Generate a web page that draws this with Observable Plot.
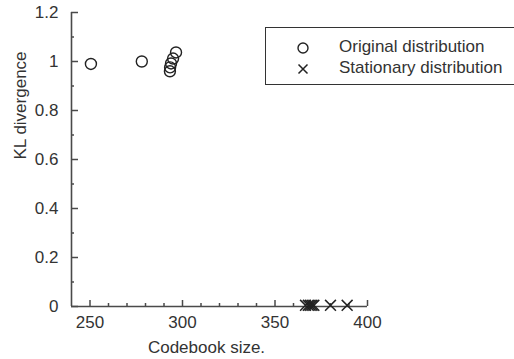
<!DOCTYPE html>
<html>
<head>
<meta charset="utf-8">
<script src="https://cdn.jsdelivr.net/npm/d3@7"></script>
<script src="https://cdn.jsdelivr.net/npm/@observablehq/plot@0.6"></script>
<style>
  body { margin: 0; background: #fff; }
  #chart { position: relative; width: 514px; height: 359px; overflow: hidden;
           font-family: "Liberation Sans", Arial, sans-serif; color: #222; }
  #chart svg { display: block; }
  .legend { position: absolute; left: 265px; top: 27px; width: 270px; height: 58px;
            border: 1.5px solid #333; box-sizing: border-box; background: #fff; }
  .legend .row { position: absolute; left: 0; height: 20px; font-size: 17px; line-height: 20px; white-space: nowrap; color: #333; }
  .legend .row svg { position: absolute; left: 29px; top: 3px; }
  .legend .row span { position: absolute; left: 73px; top: 0; }
</style>
</head>
<body>
<div id="chart"></div>
<script>
// Series names
const seriesNames = ["Original distribution", "Stationary distribution"];

// Original distribution: codebook size vs. KL divergence
const originalSize = [250.5, 278, 293.2, 293.3, 293.8, 294.9, 296.5];
const originalKL   = [0.99, 1.0, 0.96, 0.976, 0.992, 1.012, 1.037];

// Stationary distribution: codebook size vs. KL divergence
const stationarySize = [366.5, 368, 369, 370, 371, 380, 389];
const stationaryKL   = [0.005, 0.005, 0.005, 0.005, 0.005, 0.005, 0.005];

// Axis ticks
const xMajorTicks = [250, 300, 350, 400];
const xMinorTicks = [260, 270, 280, 290, 310, 320, 330, 340, 360, 370, 380, 390];
const yMajorTicks = [0, 0.2, 0.4, 0.6, 0.8, 1, 1.2];
const yMinorTicks = [0.1, 0.3, 0.5, 0.7, 0.9, 1.1];
const yTickLabels = ["0", "0.2", "0.4", "0.6", "0.8", "1", "1.2"];

const xLabel = "Codebook size.";
const yLabel = "KL divergence";

const original = originalSize.map((x, i) => ({x, y: originalKL[i]}));
const stationary = stationarySize.map((x, i) => ({x, y: stationaryKL[i]}));

const axisColor = "#4a4a4a";
const inkColor = "#222";
const tickStyle = {stroke: axisColor, strokeWidth: 1.5};

const chart = Plot.plot({
  width: 514,
  height: 359,
  marginLeft: 71,
  marginRight: 147,
  marginTop: 12,
  marginBottom: 53,
  x: {domain: [240, 400]},
  y: {domain: [0, 1.2]},
  style: {fontFamily: "'Liberation Sans', Arial, sans-serif", fontSize: "17px", color: "#333", background: "transparent"},
  marks: [
    // axis lines
    Plot.ruleX([240], {y1: 0, y2: 1.2, stroke: axisColor, strokeWidth: 1.6}),
    Plot.ruleY([0], {x1: 240, x2: 400, stroke: axisColor, strokeWidth: 1.6}),
    // inward-facing ticks, drawn as short rules from the axis lines
    Plot.ruleX(xMajorTicks, {x: (d) => d, y1: 0, y2: 0, insetTop: -6, ...tickStyle}),
    Plot.ruleX(xMinorTicks, {x: (d) => d, y1: 0, y2: 0, insetTop: -3, ...tickStyle}),
    Plot.ruleY(yMajorTicks, {y: (d) => d, x1: 240, x2: 240, insetRight: -7, ...tickStyle}),
    Plot.ruleY(yMinorTicks, {y: (d) => d, x1: 240, x2: 240, insetRight: -3, ...tickStyle}),
    // tick labels
    Plot.axisX({ticks: xMajorTicks, tickSize: 0, tickPadding: 9, label: null, fill: "#333"}),
    Plot.axisY({ticks: yMajorTicks, tickSize: 0, tickPadding: 13, label: null, fill: "#333",
                tickFormat: (d) => yTickLabels[yMajorTicks.indexOf(d)]}),
    // axis titles
    Plot.text([xLabel], {frameAnchor: "bottom", lineAnchor: "top", dy: 34, dx: -13, fill: "#333", fontSize: 17}),
    Plot.text([yLabel], {frameAnchor: "left", rotate: -90, lineAnchor: "top", dx: -58, fill: "#333", fontSize: 17}),
    // data
    Plot.dot(original, {x: "x", y: "y", symbol: "circle", r: 5.5, stroke: inkColor, strokeWidth: 1.4, fill: "none"}),
    Plot.dot(stationary, {x: "x", y: "y", symbol: "times", r: 5, stroke: inkColor, strokeWidth: 1.5, fill: "none"})
  ]
});

const container = document.getElementById("chart");
container.appendChild(chart);

// legend box
const legend = document.createElement("div");
legend.className = "legend";
const icons = [
  '<svg width="16" height="16"><circle cx="8" cy="8" r="5" fill="none" stroke="#222" stroke-width="1.4"/></svg>',
  '<svg width="16" height="16"><path d="M3.5,3.5L12.5,12.5M12.5,3.5L3.5,12.5" stroke="#222" stroke-width="1.5"/></svg>'
];
seriesNames.forEach((name, i) => {
  const row = document.createElement("div");
  row.className = "row";
  row.style.top = (9 + i * 20.5) + "px";
  row.innerHTML = icons[i] + "<span></span>";
  row.querySelector("span").textContent = name;
  legend.appendChild(row);
});
container.appendChild(legend);
</script>
</body>
</html>
